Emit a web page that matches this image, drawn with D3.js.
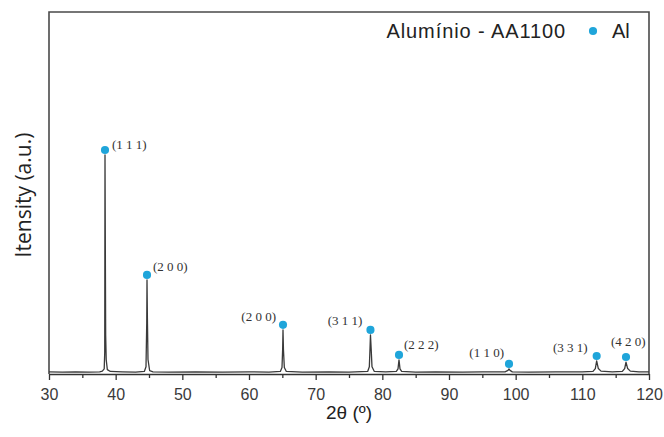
<!DOCTYPE html>
<meta charset="utf-8">
<head>
  <title>XRD - Aluminio AA1100</title>
</head>
<body>
<style>
  html, body {
    margin: 0;
    padding: 0;
    background: #fff;
  }

  .frame {
    fill: none;
    stroke: #4a4a4a;
    stroke-width: 1.6px;
  }

  .axis path, .axis line {
    stroke: #333;
    stroke-width: 1.3px;
  }

  .axis text {
    font-family: "Liberation Sans", Arial, sans-serif;
    font-size: 16px;
    fill: #3a3a3a;
  }

  .pattern {
    fill: none;
    stroke: #3a3a3a;
    stroke-width: 1.3px;
    stroke-linejoin: round;
  }

  .peak-label {
    font-family: "Liberation Serif", "DejaVu Serif", serif;
    font-size: 13px;
    fill: #333;
  }

  .title {
    font-family: "Liberation Sans", Arial, sans-serif;
    font-size: 19px;
    fill: #222;
  }
</style>
<div id="chart"></div>
<script src="https://cdn.jsdelivr.net/npm/d3@7"></script>
<script>

// diffractogram: [2theta, intensity]
var pattern = [
  [30, 6], [32, 5], [34, 6], [36, 5], [37.6, 6], [38.0, 8], [38.28, 14], [38.36, 60],
  [38.4, 605], [38.46, 300], [38.5, 108], [38.58, 40], [38.75, 12], [39.2, 7],
  [41, 6], [43, 5], [44.3, 7], [44.55, 20], [44.66, 140], [44.7, 260], [44.76, 155],
  [44.85, 40], [45.1, 9], [45.6, 6], [48, 5], [52, 6], [56, 5], [60, 6], [63, 5],
  [64.7, 7], [64.95, 18], [65.05, 70], [65.1, 122], [65.17, 66], [65.3, 18], [65.6, 7],
  [68, 5], [72, 6], [75, 5], [77.8, 7], [78.05, 20], [78.15, 70], [78.22, 108],
  [78.32, 72], [78.45, 20], [78.8, 7], [80.5, 6], [82.1, 7], [82.35, 14], [82.5, 39],
  [82.65, 14], [82.9, 7], [85, 5], [88, 6], [92, 5], [95, 6], [98.4, 6], [98.85, 10],
  [99.0, 14], [99.15, 10], [99.5, 6], [102, 5], [106, 6], [110, 6], [111.6, 7],
  [111.95, 15], [112.15, 36], [112.4, 15], [112.8, 8], [114.5, 6], [116.0, 7],
  [116.35, 15], [116.55, 33], [116.8, 15], [117.2, 8], [118.5, 6], [120, 6]
];

// indexed peaks: position, marker height, hkl
var peakPos = [38.4, 44.7, 65.1, 78.22, 82.5, 99.0, 112.15, 116.55];
var peakTop = [605, 260, 122, 108, 39, 14, 36, 33];
var peakHkl = ["(1 1 1)", "(2 0 0)", "(2 0 0)", "(3 1 1)", "(2 2 2)", "(1 1 0)", "(3 3 1)", "(4 2 0)"];

var xTicks = [30, 40, 50, 60, 70, 80, 90, 100, 110, 120];
var xMinor = [35, 45, 55, 65, 75, 85, 95, 105, 115];

var legendName = "Alumínio - AA1100",
    legendPhase = "Al";

var width = 664,
    height = 437,
    margin = {top: 12, right: 15, bottom: 63, left: 49};

var svg = d3.select("#chart").append("svg")
    .attr("width", width)
    .attr("height", height);

var x = d3.scaleLinear()
    .domain([30, 120])
    .range([margin.left, width - margin.right]);

var y = d3.scaleLinear()
    .domain([0, 1000])
    .range([height - margin.bottom, margin.top]);

var dotColor = "#1fa5da";

// minor ticks first, major axis on top
svg.append("g")
    .attr("class", "axis")
    .attr("transform", "translate(0," + y(0) + ")")
    .call(d3.axisBottom(x).tickValues(xMinor).tickSize(4).tickFormat(""))
    .call(function(g) { g.select(".domain").remove(); });

svg.append("g")
    .attr("class", "axis")
    .attr("transform", "translate(0," + y(0) + ")")
    .call(d3.axisBottom(x).tickValues(xTicks).tickSize(6).tickSizeOuter(0).tickPadding(6))
    .call(function(g) { g.selectAll("text").attr("dy", "0.9em"); });

// box around the plot (left, top, right)
svg.append("path")
    .attr("class", "frame")
    .attr("d", "M" + x(30) + "," + y(0) + "V" + y(1000) + "H" + x(120) + "V" + y(0));

var line = d3.line()
    .x(function(d) { return x(d[0]); })
    .y(function(d) { return y(d[1]); });

svg.append("path")
    .datum(pattern)
    .attr("class", "pattern")
    .attr("d", line);

// peak markers
var symbol = d3.symbol().type(d3.symbolCircle).size(52);

svg.append("g")
  .selectAll("path")
    .data(peakPos)
  .enter().append("path")
    .attr("d", symbol)
    .attr("fill", dotColor)
    .attr("transform", function(d, i) {
      return "translate(" + x(d) + "," + (y(peakTop[i]) - 5) + ")";
    });

// label placement relative to the marker: [dx, dy, anchor]
var labelPlace = [
  [7, -1, "start"], [6, -4, "start"], [-7, -4, "end"], [-8, -5, "end"],
  [5, -6, "start"], [-5, -7, "end"], [-9, -4, "end"], [-15, -11, "start"]
];

svg.append("g")
  .selectAll("text")
    .data(peakHkl)
  .enter().append("text")
    .attr("class", "peak-label")
    .attr("x", function(d, i) { return x(peakPos[i]) + labelPlace[i][0]; })
    .attr("y", function(d, i) { return y(peakTop[i]) - 5 + labelPlace[i][1]; })
    .attr("text-anchor", function(d, i) { return labelPlace[i][2]; })
    .text(function(d) { return d; });

// legend
var legend = svg.append("g");

legend.append("text")
    .attr("class", "title")
    .style("font-size", "20px")
    .style("letter-spacing", "0.9px")
    .attr("x", 566)
    .attr("y", 38)
    .attr("text-anchor", "end")
    .text(legendName);

legend.append("path")
    .attr("d", symbol)
    .attr("fill", dotColor)
    .attr("transform", "translate(593,31)");

legend.append("text")
    .attr("class", "title")
    .style("font-size", "20px")
    .attr("x", 612)
    .attr("y", 38)
    .text(legendPhase);

// axis titles
svg.append("text")
    .attr("class", "title")
    .attr("x", (x(30) + x(120)) / 2)
    .attr("y", 419)
    .attr("text-anchor", "middle")
    .text("2θ (º)");

svg.append("text")
    .attr("class", "title")
    .style("font-family", "'Open Sans', sans-serif")
    .style("font-size", "21px")
    .attr("transform", "translate(31,195)rotate(-90)")
    .attr("text-anchor", "middle")
    .text("Itensity (a.u.)");

</script>
</body>
